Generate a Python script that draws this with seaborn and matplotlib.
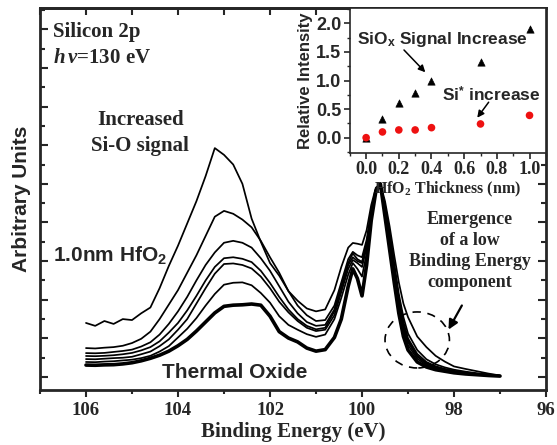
"""Si 2p spectra vs HfO2 thickness, with inset of relative intensities."""
import numpy as np
import pandas as pd
import matplotlib
matplotlib.use("Agg")
import matplotlib.pyplot as plt
import seaborn as sns
from matplotlib.patches import Ellipse
from matplotlib.ticker import MultipleLocator

# ---- main spectra (binding energy in eV, arbitrary units) ----
energy = [106.0, 105.8, 105.6, 105.4, 105.2, 105.0, 104.8, 104.6, 104.4, 104.2,
          104.0, 103.8, 103.6, 103.4, 103.2, 103.0, 102.8, 102.6, 102.4, 102.2,
          102.0, 101.8, 101.6, 101.4, 101.2, 101.0, 100.8, 100.6, 100.45, 100.3,
          100.2, 100.1, 100.0, 99.9, 99.8, 99.7, 99.6, 99.5, 99.4, 99.3,
          99.2, 99.1, 99.0, 98.8, 98.6, 98.4, 98.2, 98.0, 97.75, 97.5,
          97.25, 97.0]

thermal = [0.62, 0.61, 0.63, 0.64, 0.68, 0.74, 0.84, 0.97, 1.13, 1.34,
           1.62, 1.95, 2.38, 2.85, 3.32, 3.66, 3.72, 3.74, 3.78, 3.72,
           3.15, 2.35, 2.02, 1.82, 1.50, 1.34, 1.42, 2.05, 3.0, 4.7,
           5.6, 5.1, 4.2, 5.8, 8.1, 9.6, 10.0, 8.3, 6.6, 4.9,
           3.3, 2.1, 1.4, 0.78, 0.52, 0.38, 0.30, 0.22, 0.16, 0.12,
           0.08, 0.05]

hfo2_01 = [0.78, 0.77, 0.80, 0.82, 0.86, 0.90, 0.98, 1.10, 1.32, 1.60,
           2.05, 2.50, 3.05, 3.70, 4.30, 4.78, 4.88, 4.90, 4.75, 4.35,
           3.85, 3.15, 2.70, 2.45, 2.22, 2.08, 2.20, 3.0, 4.1, 5.3,
           5.9, 5.6, 5.2, 6.4, 8.3, 9.65, 10.0, 8.5, 6.9, 5.2,
           3.6, 2.4, 1.65, 0.95, 0.62, 0.45, 0.34, 0.26, 0.19, 0.14,
           0.09, 0.06]

hfo2_02 = [0.93, 0.92, 0.95, 0.98, 1.00, 1.05, 1.18, 1.32, 1.60, 1.95,
           2.45, 3.00, 3.80, 4.60, 5.35, 5.85, 5.88, 5.80, 5.62, 5.20,
           4.60, 3.90, 3.35, 2.90, 2.55, 2.38, 2.45, 3.2, 4.4, 5.6,
           6.06, 5.9, 5.7, 6.7, 8.4, 9.7, 10.0, 8.6, 7.0, 5.4,
           3.8, 2.6, 1.8, 1.05, 0.68, 0.50, 0.38, 0.28, 0.20, 0.15,
           0.10, 0.06]

hfo2_03 = [1.09, 1.08, 1.10, 1.13, 1.18, 1.25, 1.38, 1.55, 1.85, 2.30,
           2.80, 3.45, 4.20, 5.00, 5.70, 6.15, 6.20, 6.12, 5.95, 5.50,
           4.87, 4.15, 3.50, 3.00, 2.65, 2.47, 2.55, 3.4, 4.6, 5.8,
           6.2, 6.0, 5.9, 6.8, 8.5, 9.7, 10.0, 8.7, 7.1, 5.5,
           3.9, 2.7, 1.9, 1.10, 0.72, 0.52, 0.40, 0.30, 0.21, 0.15,
           0.10, 0.06]

hfo2_04 = [1.24, 1.23, 1.25, 1.30, 1.35, 1.42, 1.58, 1.80, 2.20, 2.75,
           3.40, 4.15, 5.00, 5.80, 6.45, 6.95, 7.05, 6.95, 6.70, 6.15,
           5.50, 4.70, 3.90, 3.30, 2.85, 2.65, 2.70, 3.5, 4.7, 5.9,
           6.4, 6.1, 5.96, 6.9, 8.5, 9.7, 10.0, 8.8, 7.3, 5.7,
           4.1, 2.85, 2.0, 1.20, 0.78, 0.56, 0.42, 0.32, 0.23, 0.16,
           0.11, 0.06]

hfo2_07 = [1.50, 1.48, 1.52, 1.55, 1.62, 1.76, 1.98, 2.35, 3.00, 3.75,
           4.50, 5.40, 6.30, 7.30, 8.30, 8.60, 8.45, 8.15, 7.75, 7.05,
           6.20, 5.40, 4.45, 3.70, 3.20, 2.90, 2.95, 3.7, 4.9, 6.1,
           6.48, 6.3, 6.2, 7.1, 8.6, 9.75, 10.0, 8.9, 7.5, 5.9,
           4.3, 3.1, 2.25, 1.40, 0.92, 0.66, 0.50, 0.38, 0.28, 0.20,
           0.13, 0.07]

hfo2_10 = [2.80, 2.65, 2.90, 2.75, 3.00, 2.95, 3.30, 3.60, 4.60, 5.75,
           6.80, 7.95, 9.10, 10.40, 11.85, 11.50, 11.00, 10.00, 8.20, 7.00,
           5.90, 5.25, 4.45, 3.95, 3.55, 3.40, 3.50, 4.5, 5.7, 6.7,
           6.94, 6.9, 6.84, 7.6, 8.9, 9.8, 10.0, 9.1, 7.8, 6.3,
           4.9, 3.8, 3.1, 2.10, 1.55, 1.10, 0.80, 0.55, 0.42, 0.30,
           0.18, 0.08]

spectra = {"0.0": thermal, "0.1": hfo2_01, "0.2": hfo2_02, "0.3": hfo2_03,
           "0.4": hfo2_04, "0.7": hfo2_07, "1.0": hfo2_10}

# ---- inset: relative intensity vs HfO2 thickness ----
thickness = [0.0, 0.1, 0.2, 0.3, 0.4, 0.7, 1.0]
siox_signal = [0.0, 0.32, 0.61, 0.79, 0.99, 1.33, 1.91]
si_star = [0.0, 0.10, 0.135, 0.135, 0.175, 0.24, 0.39]

main_xticks = [106, 104, 102, 100, 98, 96]
inset_xticks = [0.0, 0.2, 0.4, 0.6, 0.8, 1.0]
inset_yticks = [0.0, 0.5, 1.0, 1.5, 2.0]

sns.set_theme(style="ticks")
plt.rcParams['font.family'] = ['Liberation Serif', 'DejaVu Serif']
plt.rcParams['font.weight'] = 'bold'
plt.rcParams['mathtext.fontset'] = 'custom'
plt.rcParams['mathtext.rm'] = 'Liberation Serif:bold'
plt.rcParams['mathtext.it'] = 'Liberation Serif:italic:bold'
plt.rcParams['mathtext.sf'] = 'Liberation Sans:bold'
SANS = ['Liberation Sans', 'DejaVu Sans']

fig = plt.figure(figsize=(5.57, 4.45), dpi=100)
ax = fig.add_axes([0.0718, 0.1236, 0.9085, 0.8584])

rows = []
for name, vals in spectra.items():
    rows.append(pd.DataFrame({"energy": energy, "signal": vals, "thick": name}))
df = pd.concat(rows, ignore_index=True)

for name in spectra:
    sub = df[df["thick"] == name]
    lw = 2.6 if name == "0.0" else 1.25
    sns.lineplot(data=sub, x="energy", y="signal", ax=ax, color="black",
                 linewidth=lw, sort=False, estimator=None)

ax.set_xlim(107, 96)
ax.set_ylim(-0.67, 19.1)
ax.set_xticks(main_xticks)
ax.set_xticklabels([str(t) for t in main_xticks])
ax.xaxis.set_minor_locator(MultipleLocator(1))
ax.yaxis.set_major_locator(MultipleLocator(2))
ax.yaxis.set_minor_locator(MultipleLocator(1))
ax.set_yticklabels([])
ax.tick_params(axis='x', which='major', direction='out', length=5, width=1.5,
               labelsize=13.5, pad=4)
ax.tick_params(axis='x', which='minor', direction='out', length=3, width=1.5)
ax.tick_params(axis='y', which='major', direction='in', length=6, width=1.5,
               left=True, right=True)
ax.tick_params(axis='y', which='minor', direction='in', length=3.5, width=1.5,
               left=True, right=True)
for sp in ax.spines.values():
    sp.set_linewidth(2)
    sp.set_visible(True)

top = ax.secondary_xaxis('top')
top.set_xticks(main_xticks)
top.xaxis.set_minor_locator(MultipleLocator(1))
top.tick_params(which='both', direction='in', length=5, width=1.5, labeltop=False)
top.spines['top'].set_linewidth(2)

ax.set_xlabel("Binding Energy (eV)", fontsize=15, fontweight='bold', labelpad=2)
ax.set_ylabel("Arbitrary Units", fontsize=15, fontweight='bold', family=SANS,
              labelpad=3)

ax.text(0.026, 0.937, "Silicon 2p", transform=ax.transAxes, fontsize=15,
        ha='left', va='center')
ax.text(0.026, 0.869, r"$h\,\nu$=130 eV", transform=ax.transAxes, fontsize=15,
        ha='left', va='center')
ax.text(0.198, 0.674, "Increased\nSi-O signal", transform=ax.transAxes,
        fontsize=15, ha='center', va='center', linespacing=1.4)
ax.text(0.026, 0.353, r"1.0nm HfO$_\mathsf{2}$", transform=ax.transAxes,
        fontsize=15, ha='left', va='center', family=SANS)
ax.text(0.241, 0.047, "Thermal Oxide", transform=ax.transAxes, fontsize=15,
        ha='left', va='center', family=SANS)
ax.text(0.85, 0.364, "Emergence\nof a low\nBinding Energy\ncomponent",
        transform=ax.transAxes, fontsize=13, ha='center', va='center',
        linespacing=1.33)

ax.add_patch(Ellipse((98.8, 1.92), 1.4, 2.9, fill=False, ec='black',
                     lw=1.2, ls=(0, (5, 4))))
ax.annotate("", xy=(98.15, 2.33), xytext=(97.8, 3.83),
            arrowprops=dict(arrowstyle='-|>', color='black', lw=1.6,
                            mutation_scale=14))

# ---- inset ----
axin = fig.add_axes([0.628, 0.656, 0.352, 0.326])
axin.set_facecolor('white')
sns.scatterplot(x=thickness, y=siox_signal, ax=axin, marker='^', color='black',
                s=28, edgecolor='black', zorder=3)
sns.scatterplot(x=thickness, y=si_star, ax=axin, marker='o', color='#ee1111',
                s=30, edgecolor='none', zorder=4)
axin.set_xlim(-0.1, 1.1)
axin.set_ylim(-0.27, 2.27)
axin.set_xticks(inset_xticks)
axin.set_xticklabels([f"{t:.1f}" for t in inset_xticks])
axin.set_yticks(inset_yticks)
axin.set_yticklabels([f"{t:.1f}" for t in inset_yticks], family=SANS)
axin.xaxis.set_minor_locator(MultipleLocator(0.1))
axin.yaxis.set_minor_locator(MultipleLocator(0.25))
axin.tick_params(which='major', direction='out', length=4, width=1.2,
                 labelsize=13, pad=2)
axin.tick_params(which='minor', direction='out', length=2.5, width=1.0)
for sp in axin.spines.values():
    sp.set_linewidth(1.2)
axin.set_xlabel(r"HfO$_\mathrm{2}$ Thickness (nm)", fontsize=11.5,
                fontweight='bold', labelpad=1)
axin.set_ylabel("Relative Intensity", fontsize=12, fontweight='bold',
                family=SANS, labelpad=2)

axin.text(0.036, 0.78, r"SiO$_\mathsf{x}$ Signal Increase", transform=axin.transAxes,
          fontsize=12.5, ha='left', va='center', family=SANS)
axin.text(0.47, 0.40, r"Si$^\mathsf{*}$ increase", transform=axin.transAxes,
          fontsize=12.5, ha='left', va='center', family=SANS)
axin.annotate("", xy=(0.374, 1.11), xytext=(0.22, 1.57),
              arrowprops=dict(arrowstyle='-|>', color='black', lw=1.1,
                              mutation_scale=10))
axin.annotate("", xy=(0.67, 0.31), xytext=(0.76, 0.66),
              arrowprops=dict(arrowstyle='-|>', color='black', lw=1.1,
                              mutation_scale=10))

fig.savefig("out.png", dpi=100)
